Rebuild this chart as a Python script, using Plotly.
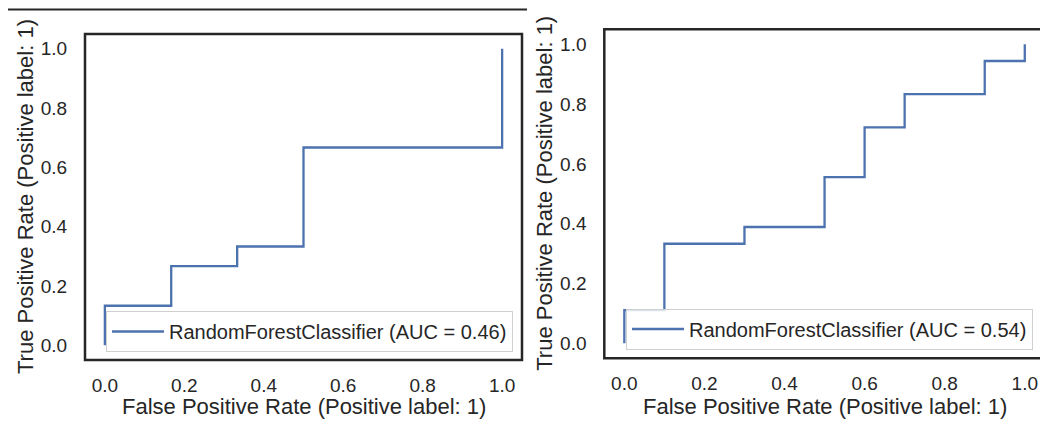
import numpy as np
import plotly.graph_objects as go

# ---- data ----
left_fpr = [0.0, 0.0, 0.167, 0.167, 0.333, 0.333, 0.5, 0.5, 1.0, 1.0]
left_tpr = [0.0, 0.133, 0.133, 0.267, 0.267, 0.333, 0.333, 0.667, 0.667, 1.0]

right_fpr = [0.0, 0.0, 0.1, 0.1, 0.3, 0.3, 0.5, 0.5, 0.6, 0.6, 0.7, 0.7, 0.9, 0.9, 1.0, 1.0]
right_tpr = [0.0, 0.111, 0.111, 0.333, 0.333, 0.389, 0.389, 0.556, 0.556,
             0.722, 0.722, 0.833, 0.833, 0.944, 0.944, 1.0]

model_name = "RandomForestClassifier"
tick_vals = [0.0, 0.2, 0.4, 0.6, 0.8, 1.0]
tick_text = ["0.0", "0.2", "0.4", "0.6", "0.8", "1.0"]
x_title = "False Positive Rate (Positive label: 1)"
y_title = "True Positive Rate (Positive label: 1)"

# ---- style ----
W, H = 1040, 421
FONT = "Liberation Sans, Arial, sans-serif"
TXT = "#262626"
LINE = "#4C72B0"
FRAME = "#262626"


def auc(x, y):
    x = np.asarray(x); y = np.asarray(y)
    return float(np.sum((x[1:] - x[:-1]) * (y[1:] + y[:-1]) / 2))


fig = go.Figure()
fig.add_trace(go.Scatter(
    x=left_fpr, y=left_tpr, mode="lines",
    name=f"{model_name} (AUC = {auc(left_fpr, left_tpr):.2f})",
    line=dict(color=LINE, width=2.3), xaxis="x", yaxis="y", legend="legend"))
fig.add_trace(go.Scatter(
    x=right_fpr, y=right_tpr, mode="lines",
    name=f"{model_name} (AUC = {auc(right_fpr, right_tpr):.2f})",
    line=dict(color=LINE, width=2.3), xaxis="x2", yaxis="y2", legend="legend2"))

# pixel geometry -> paper fractions
L_x0, L_x1, L_top, L_bot = 85, 522, 34, 360
R_x0, R_top, R_bot = 604.3, 29.3, 358.3
R_x_full = 1044.8  # right frame edge (beyond the page)


def px(x):
    return x / W


def py(y):
    return (H - y) / H


axis_common = dict(
    showgrid=False, zeroline=False, showline=False,
    tickvals=tick_vals, ticktext=tick_text,
    ticks="outside", tickcolor="rgba(0,0,0,0)",
    tickfont=dict(family=FONT, size=19, color=TXT),
)

r_units_per_px = 1.1 / (R_x_full - R_x0)
r_xmax = -0.05 + (W - R_x0) * r_units_per_px

legend_common = dict(
    xanchor="right", yanchor="bottom",
    bgcolor="rgba(255,255,255,0.8)", bordercolor="#d0d0d0", borderwidth=1,
    font=dict(family=FONT, size=20, color=TXT), itemwidth=52,
)

fig.update_layout(
    width=W, height=H,
    margin=dict(l=0, r=0, t=0, b=0),
    paper_bgcolor="white", plot_bgcolor="white",
    font=dict(family=FONT, color=TXT),
    xaxis=dict(domain=[px(L_x0), px(L_x1)], range=[-0.05, 1.05], anchor="y",
               ticklen=8, **axis_common),
    yaxis=dict(domain=[py(L_bot), py(L_top)], range=[-0.05, 1.05], anchor="x",
               ticklen=13, **axis_common),
    xaxis2=dict(domain=[px(R_x0), 1.0], range=[-0.05, r_xmax], anchor="y2",
                ticklen=8, **axis_common),
    yaxis2=dict(domain=[py(R_bot), py(R_top)], range=[-0.05, 1.05], anchor="x2",
                ticklen=13, **axis_common),
    legend=dict(x=px(513), y=py(352), **legend_common),
    legend2=dict(x=px(1033), y=py(349.5), **legend_common),
    showlegend=True,
)

# frames (spines)
fig.add_shape(type="rect", xref="x domain", yref="y domain", x0=0, x1=1, y0=0, y1=1,
              line=dict(color=FRAME, width=2.5), fillcolor="rgba(0,0,0,0)", layer="above")
r_x1_dom = (R_x_full - R_x0) / (W - R_x0)
fig.add_shape(type="rect", xref="x2 domain", yref="y2 domain", x0=0, x1=r_x1_dom, y0=0, y1=1,
              line=dict(color=FRAME, width=2.5), fillcolor="rgba(0,0,0,0)", layer="above")
# spine of a figure above (cut off at top of the page)
fig.add_shape(type="line", xref="paper", yref="paper", x0=px(8), x1=px(527),
              y0=py(9.5), y1=py(9.5), line=dict(color=FRAME, width=2))

# axis titles
title_font = dict(family=FONT, size=22, color=TXT)
fig.add_annotation(text=x_title, xref="x domain", yref="paper", x=0.5, y=py(406),
                   xanchor="center", yanchor="middle", showarrow=False, font=title_font)
fig.add_annotation(text=x_title, xref="paper", yref="paper",
                   x=px((R_x0 + R_x_full) / 2), y=py(406),
                   xanchor="center", yanchor="middle", showarrow=False, font=title_font)
fig.add_annotation(text=y_title, xref="paper", yref="y domain", x=px(25), y=0.5,
                   xanchor="center", yanchor="middle", textangle=-90, showarrow=False,
                   font=title_font)
fig.add_annotation(text=y_title, xref="paper", yref="y2 domain", x=px(545), y=0.5,
                   xanchor="center", yanchor="middle", textangle=-90, showarrow=False,
                   font=title_font)

fig.write_html(
    "out.html",
    config={"displayModeBar": False},
    post_script="document.body.style.margin='0';document.body.style.overflow='hidden';",
)
